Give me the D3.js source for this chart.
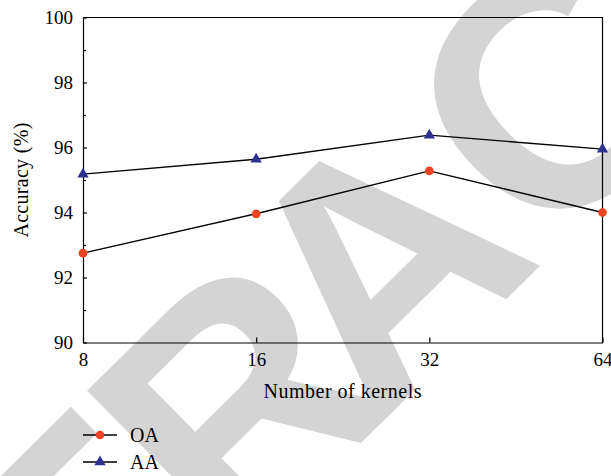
<!DOCTYPE html>
<html>
<head>
<meta charset="utf-8">
<script src="https://cdn.jsdelivr.net/npm/d3@7"></script>
<style>
  html, body { margin: 0; padding: 0; background: #fff; }
  svg { display: block; }
</style>
</head>
<body>
<svg id="chart" width="611" height="476"></svg>
<script>
const kernels = [8, 16, 32, 64];
const oaValues = [92.75, 93.96, 95.28, 94.0];
const aaValues = [95.18, 95.64, 96.38, 95.95];
const yTicks = [90, 92, 94, 96, 98, 100];
const yMinorTicks = [91, 93, 95, 97, 99];
const seriesNames = ["OA", "AA"];
const watermarkText = "RETRACTED";

(function () {
const mLeft = 83, mRight = 602.5, mTop = 17.5, mBottom = 342.5;
const font = "'Liberation Serif', 'Times New Roman', serif";

const svg = d3.select("#chart");

// watermark underneath (letters placed along a rotated baseline)
const wmStarts = [-986, -745, -522, -321, -121, 120, 361, 565, 788];
svg.append("text")
  .attr("transform", "translate(461,344) rotate(-44.7)")
  .attr("x", wmStarts.join(" "))
  .attr("y", 0)
  .attr("font-family", "'Liberation Sans', Arial, sans-serif")
  .attr("font-weight", "bold")
  .attr("font-size", 334)
  .attr("fill", "#d4d4d4")
  .text(watermarkText);

const x = d3.scaleLog().base(2).domain([8, 64]).range([mLeft, mRight]);
const y = d3.scaleLinear().domain([90, 100]).range([mBottom, mTop]);

// frame top & right
svg.append("path")
  .attr("d", `M${mLeft},${mTop}H${mRight}V${mBottom}`)
  .attr("fill", "none").attr("stroke", "#000").attr("stroke-width", 1.2);

// y axis
const yAxis = d3.axisLeft(y).tickValues(yTicks).tickSizeInner(-4).tickSizeOuter(0).tickPadding(10).tickFormat(d3.format("d"));
const gy = svg.append("g").attr("transform", `translate(${mLeft},0)`).call(yAxis);
gy.selectAll("text").attr("font-family", font).attr("font-size", 19).attr("fill", "#000");
gy.selectAll("line, path").attr("stroke", "#000").attr("stroke-width", 1.2);
const yMinor = d3.axisLeft(y).tickValues(yMinorTicks).tickSizeInner(-3).tickSizeOuter(0).tickFormat("");
const gym = svg.append("g").attr("transform", `translate(${mLeft},0)`).call(yMinor);
gym.select(".domain").remove();
gym.selectAll("line").attr("stroke", "#000").attr("stroke-width", 1.2);

// x axis
const xAxis = d3.axisBottom(x).tickValues(kernels).tickSizeInner(-5).tickSizeOuter(0).tickPadding(10).tickFormat(d3.format("d"));
const gx = svg.append("g").attr("transform", `translate(0,${mBottom})`).call(xAxis);
gx.selectAll("text").attr("font-family", font).attr("font-size", 19).attr("fill", "#000");
gx.selectAll("line, path").attr("stroke", "#000").attr("stroke-width", 1.2);

// axis titles
svg.append("text")
  .attr("x", (mLeft + mRight) / 2).attr("y", 398)
  .attr("text-anchor", "middle")
  .attr("font-family", font).attr("font-size", 20).attr("letter-spacing", 0.5)
  .text("Number of kernels");
svg.append("text")
  .attr("transform", `translate(28,${(mTop + mBottom) / 2}) rotate(-90)`)
  .attr("text-anchor", "middle")
  .attr("font-family", font).attr("font-size", 20).attr("letter-spacing", 0.3)
  .text("Accuracy (%)");

const colors = { OA: "#ee4423", AA: "#2e3192" };
const series = [
  { name: seriesNames[0], values: oaValues, symbol: d3.symbolCircle, size: 60 },
  { name: seriesNames[1], values: aaValues, symbol: d3.symbolTriangle, size: 55 }
];

const line = d3.line().x(d => x(d[0])).y(d => y(d[1]));

series.forEach(s => {
  const pts = kernels.map((k, i) => [k, s.values[i]]);
  svg.append("path").datum(pts)
    .attr("d", line).attr("fill", "none").attr("stroke", "#000").attr("stroke-width", 1.4);
  svg.selectAll(null).data(pts).enter().append("path")
    .attr("transform", d => `translate(${x(d[0])},${y(d[1])})`)
    .attr("d", d3.symbol().type(s.symbol).size(s.size))
    .attr("fill", colors[s.name]);
});

// legend
series.forEach((s, i) => {
  const ly = 435 + i * 27;
  const g = svg.append("g");
  g.append("line").attr("x1", 83).attr("x2", 117).attr("y1", ly).attr("y2", ly)
    .attr("stroke", "#000").attr("stroke-width", 1.4);
  g.append("path").attr("transform", `translate(100,${ly})`)
    .attr("d", d3.symbol().type(s.symbol).size(s.size)).attr("fill", colors[s.name]);
  g.append("text").attr("x", 130).attr("y", ly + 6.5)
    .attr("font-family", font).attr("font-size", 20).text(s.name);
});
})();
</script>
</body>
</html>
